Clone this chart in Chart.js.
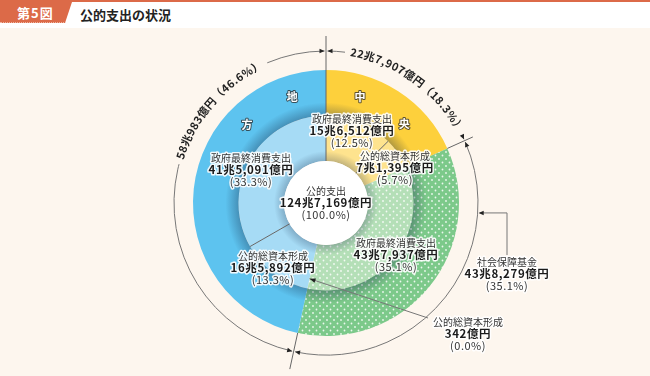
<!DOCTYPE html>
<html>
<head>
<meta charset="utf-8">
<script src="https://cdn.jsdelivr.net/npm/chart.js@4.4.0/dist/chart.umd.min.js"></script>
<style>
html, body { margin: 0; padding: 0; }
body { width: 650px; height: 376px; background: #fdf6ee; position: relative; overflow: hidden; font-family: "Noto Sans CJK JP", sans-serif; }
#head { position: absolute; left: 0; top: 0; width: 650px; height: 26px; background: #fff; border-top: 2px solid #dc6a48; }
#tab { position: absolute; left: 0; top: 0; width: 72px; height: 21px; background: #dc6a48; clip-path: polygon(0 0, 100% 0, calc(100% - 7px) 100%, 0 100%); color: #fff; font-weight: bold; font-size: 13px; line-height: 21px; padding-left: 17px; box-sizing: border-box; border-bottom: 1px dotted #f2b49e; letter-spacing: 1px; }
#title { position: absolute; left: 80px; top: 3px; font-size: 13px; font-weight: bold; color: #222; }
canvas { position: absolute; left: 0; top: 0; }
</style>
</head>
<body>
<div id="head"><div id="tab">第5図</div><div id="title">公的支出の状況</div></div>
<canvas id="chart" width="650" height="376"></canvas>
<script>
// 外側: 部門別 (兆円)
const outerLabels = ['中央', '社会保障基金', '地方'];
const outerValues = [22.7907, 43.8279, 58.0983];
const outerAmounts = ['22兆7,907億円', '43兆8,279億円', '58兆983億円'];
const outerShares = ['（18.3%）', '(35.1%)', '（46.6%）'];

// 内側: 支出項目別 (兆円)
const innerLabels = ['政府最終消費支出', '公的総資本形成', '政府最終消費支出', '公的総資本形成', '公的総資本形成', '政府最終消費支出'];
const innerValues = [15.6512, 7.1395, 43.7937, 0.0342, 16.5892, 41.5091];
const innerAmounts = ['15兆6,512億円', '7兆1,395億円', '43兆7,937億円', '342億円', '16兆5,892億円', '41兆5,091億円'];
const innerShares = ['(12.5%)', '(5.7%)', '(35.1%)', '(0.0%)', '(13.3%)', '(33.3%)'];

const totalLines = ['公的支出', '124兆7,169億円', '(100.0%)'];

const FONT = '"Noto Sans CJK JP", sans-serif';

function dots(bg) {
    const t = document.createElement('canvas');
    t.width = 7; t.height = 7;
    const c = t.getContext('2d');
    c.fillStyle = bg;
    c.fillRect(0, 0, 7, 7);
    c.fillStyle = 'rgba(255,255,255,0.85)';
    c.beginPath(); c.arc(1.5, 1.5, 0.9, 0, Math.PI * 2); c.fill();
    c.beginPath(); c.arc(5, 5, 0.9, 0, Math.PI * 2); c.fill();
    return document.getElementById('chart').getContext('2d').createPattern(t, 'repeat');
}

const overlay = {
    id: 'overlay',
    afterDatasetsDraw(chart) {
        const ctx = chart.ctx;
        const outer = chart.getDatasetMeta(0).data;
        const inner = chart.getDatasetMeta(1).data;
        const cx = outer[0].x, cy = outer[0].y;
        const R0 = outer[0].outerRadius, R1 = outer[0].innerRadius;
        const r1 = inner[0].outerRadius, r0 = inner[0].innerRadius;
        const P = (a, r) => [cx + r * Math.cos(a), cy + r * Math.sin(a)];

        ctx.save();
        // shadows
        function shade(a, b, alpha) {
            const g = ctx.createRadialGradient(cx, cy, a, cx, cy, b);
            g.addColorStop(0, 'rgba(20,40,70,' + alpha + ')');
            g.addColorStop(1, 'rgba(20,40,70,0)');
            ctx.fillStyle = g;
            ctx.beginPath();
            ctx.arc(cx, cy, b, 0, Math.PI * 2);
            ctx.arc(cx, cy, a, 0, Math.PI * 2, true);
            ctx.fill();
        }
        shade(r1, r1 + 13, 0.32);
        shade(r0, r0 + 10, 0.25);
        ctx.fillStyle = '#fff';
        ctx.beginPath(); ctx.arc(cx, cy, r0, 0, Math.PI * 2); ctx.fill();

        // radial lines
        ctx.strokeStyle = '#666';
        ctx.lineWidth = 1;
        function ray(a, ra, rb) {
            const p = P(a, ra), q = P(a, rb);
            ctx.beginPath(); ctx.moveTo(p[0], p[1]); ctx.lineTo(q[0], q[1]); ctx.stroke();
        }
        ray(outer[0].startAngle, r0, R0 + 34);
        ray(inner[0].endAngle, r0, r1);
        ray(inner[4].endAngle, r0, r1);
        ray(outer[0].endAngle, R0, R0 + 28);
        ray(outer[1].endAngle, R0, R0 + 37);

        // annotation arcs
        const RA = R0 + 19;
        function arrow(t, r, dir) {
            const T = P(t, r);
            const tx = -Math.sin(t) * dir, ty = Math.cos(t) * dir;
            const nx = Math.cos(t), ny = Math.sin(t);
            ctx.fillStyle = '#222';
            ctx.beginPath();
            ctx.moveTo(T[0], T[1]);
            ctx.lineTo(T[0] - tx * 5 + nx * 2.3, T[1] - ty * 5 + ny * 2.3);
            ctx.lineTo(T[0] - tx * 5 - nx * 2.3, T[1] - ty * 5 - ny * 2.3);
            ctx.closePath(); ctx.fill();
        }
        function arcText(str, ac, r) {
            ctx.font = 'bold 11px ' + FONT;
            ctx.fillStyle = '#222';
            ctx.textAlign = 'center';
            ctx.textBaseline = 'middle';
            const chars = [...str];
            const ws = chars.map(c => ctx.measureText(c).width + 0.6);
            const total = ws.reduce((a, b) => a + b, 0);
            let a = ac - total / 2 / r;
            chars.forEach((c, i) => {
                const am = a + ws[i] / 2 / r;
                const p = P(am, r);
                ctx.save();
                ctx.translate(p[0], p[1]);
                ctx.rotate(am + Math.PI / 2);
                ctx.fillText(c, 0, 0);
                ctx.restore();
                a += ws[i] / r;
            });
            return total / 2 / r + 5 / r;
        }
        function bracket(a0, a1, text, frac) {
            const d = 1.5 / RA;
            ctx.strokeStyle = '#777';
            ctx.lineWidth = 1;
            if (text) {
                const ac = a0 + frac * (a1 - a0);
                const hw = arcText(text, ac, RA + 1);
                ctx.beginPath(); ctx.arc(cx, cy, RA, a0 + d, ac - hw); ctx.stroke();
                ctx.beginPath(); ctx.arc(cx, cy, RA, ac + hw, a1 - d); ctx.stroke();
            } else {
                ctx.beginPath(); ctx.arc(cx, cy, RA, a0 + d, a1 - d); ctx.stroke();
            }
            arrow(a0 + d, RA, -1);
            arrow(a1 - d, RA, 1);
        }
        bracket(outer[0].startAngle, outer[0].endAngle, outerAmounts[0] + outerShares[0], 0.54);
        bracket(outer[1].startAngle, outer[1].endAngle, null, 0);
        bracket(outer[2].startAngle, outer[2].endAngle, outerAmounts[2] + outerShares[2], 0.708);

        // 社会保障基金 leader
        const ab = outer[1].startAngle + 0.221 * (outer[1].endAngle - outer[1].startAngle);
        const pb = P(ab, RA);
        ctx.strokeStyle = '#777';
        ctx.beginPath(); ctx.moveTo(pb[0] + 2, pb[1]); ctx.lineTo(507, pb[1]); ctx.lineTo(507, 255); ctx.stroke();
        ctx.fillStyle = '#222';
        ctx.beginPath(); ctx.moveTo(pb[0] + 1, pb[1]); ctx.lineTo(pb[0] + 6, pb[1] - 2.3); ctx.lineTo(pb[0] + 6, pb[1] + 2.3); ctx.closePath(); ctx.fill();

        // 342億円 leader
        const as = (inner[3].startAngle + inner[3].endAngle) / 2;
        const ps = P(as, r1 - 10);
        const ls = [428, 318];
        ctx.beginPath(); ctx.moveTo(ls[0], ls[1]); ctx.lineTo(ps[0], ps[1]); ctx.stroke();
        const ang = Math.atan2(ps[1] - ls[1], ps[0] - ls[0]);
        ctx.fillStyle = '#222';
        ctx.beginPath();
        ctx.moveTo(ps[0], ps[1]);
        ctx.lineTo(ps[0] - 6 * Math.cos(ang) + 2.3 * Math.sin(ang), ps[1] - 6 * Math.sin(ang) - 2.3 * Math.cos(ang));
        ctx.lineTo(ps[0] - 6 * Math.cos(ang) - 2.3 * Math.sin(ang), ps[1] - 6 * Math.sin(ang) + 2.3 * Math.cos(ang));
        ctx.closePath(); ctx.fill();

        // 中 央 / 地 方
        ctx.font = 'bold 11px ' + FONT;
        ctx.textAlign = 'center';
        ctx.textBaseline = 'middle';
        ctx.lineJoin = 'round';
        const rm = (R0 + R1) / 2 + 1;
        const sideChars = [[0, [...outerLabels[0]], [0.27, 0.68]], [2, [...outerLabels[2]], [0.895, 0.73]]];
        sideChars.forEach(([i, chars, fr]) => {
            chars.forEach((c, k) => {
                const a = outer[i].startAngle + fr[k] * (outer[i].endAngle - outer[i].startAngle);
                const p = P(a, rm);
                ctx.strokeStyle = 'rgba(40,40,40,0.75)';
                ctx.lineWidth = 2;
                ctx.strokeText(c, p[0], p[1]);
                ctx.fillStyle = '#fff';
                ctx.fillText(c, p[0], p[1]);
            });
        });

        // text blocks
        function block(lines, x, y) {
            const fonts = ['10px ' + FONT, 'bold 11.5px ' + FONT, '11px ' + FONT];
            const spacing = ['0px', '0.6px', '0.5px'];
            lines.forEach((s, k) => {
                ctx.font = fonts[k];
                ctx.letterSpacing = spacing[k];
                const yy = y + (k - 1) * 12;
                ctx.strokeStyle = 'rgba(255,255,255,0.9)';
                ctx.lineWidth = 3;
                ctx.strokeText(s, x, yy);
                ctx.fillStyle = k === 1 ? '#1a1a1a' : '#333';
                ctx.fillText(s, x, yy);
            });
            ctx.letterSpacing = '0px';
        }
        const innerPos = [[352, 131], [395, 168], [396, 255], [468, 334], [273, 268], [251, 170]];
        innerLabels.forEach((l, i) => block([l, innerAmounts[i], innerShares[i]], innerPos[i][0], innerPos[i][1]));
        block([outerLabels[1], outerAmounts[1], outerShares[1]], 507, 274);
        block(totalLines, cx, cy);
        ctx.restore();
    }
};

new Chart(document.getElementById('chart'), {
    type: 'doughnut',
    data: {
        labels: innerLabels,
        datasets: [
            {
                label: '部門',
                data: outerValues,
                backgroundColor: ['#fdd03c', dots('#7cc98a'), '#5dc3ef'],
                borderWidth: 0
            },
            {
                label: '項目',
                data: innerValues,
                backgroundColor: ['#fee38e', '#fee38e', dots('#b4dfb7'), dots('#b4dfb7'), '#a6dbf5', '#a6dbf5'],
                borderWidth: 0
            }
        ]
    },
    options: {
        responsive: false,
        animation: false,
        cutout: '31.6%',
        layout: { padding: { top: 70, bottom: 40, left: 193, right: 191 } },
        plugins: {
            legend: { display: false },
            tooltip: { enabled: false }
        }
    },
    plugins: [overlay]
});
</script>
</body>
</html>
